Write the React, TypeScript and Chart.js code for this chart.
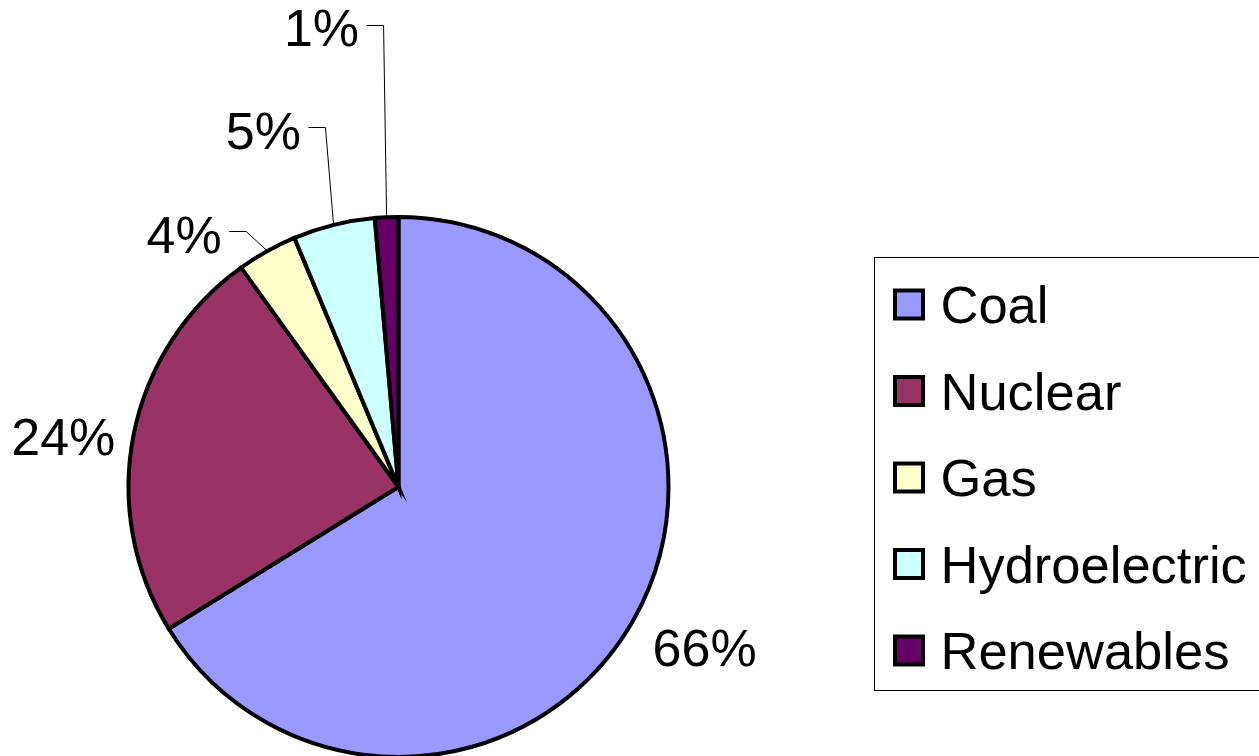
import React, { useEffect, useRef } from "react";
import { Chart, registerables } from "chart.js";

Chart.register(...registerables);

// ---- data ----
const categories = ["Coal", "Nuclear", "Gas", "Hydroelectric", "Renewables"];
const shares = [66.2, 23.9, 3.6, 4.9, 1.4];
const colors = ["#9999FF", "#993366", "#FFFFCC", "#CCFFFF", "#660066"];

// ---- style / layout ----
const FONT_SIZE = 52;
const LEGEND_FONT_SIZE = 52.5;
const FONT = `${FONT_SIZE}px "Liberation Sans", Arial, sans-serif`;
const LEGEND_FONT = `${LEGEND_FONT_SIZE}px "Liberation Sans", Arial, sans-serif`;
const CAP_HALF = 0.358 * FONT_SIZE;
const LEGEND_CAP_HALF = 0.358 * LEGEND_FONT_SIZE;
const CANVAS_W = 1259;
const CANVAS_H = 800;

type LabelLayout =
  | { kind: "outside"; dx: number; dy: number }
  | { kind: "leader"; ex: number; ey: number; len: number };

const LABEL_LAYOUT: LabelLayout[] = [
  { kind: "outside", dx: 69, dy: 28.5 },
  { kind: "outside", dx: -69, dy: 2.6 },
  { kind: "leader", ex: -20, ey: -19, len: 17 },
  { kind: "leader", ex: -8, ey: -96, len: 17 },
  { kind: "leader", ex: -3, ey: -191, len: 17 },
];

const LEGEND_BOX = { left: 874.5, top: 257.5, bottom: 690.5, right: 1265 };
const LEGEND_FIRST_Y = 304.5;
const LEGEND_STEP = 86.5;
const LEGEND_MARK_X = 909;
const LEGEND_MARK = 28;
const LEGEND_TEXT_X = 940.5;

const labelPlugin = {
  id: "pieLabels",
  afterDatasetsDraw(chart: any) {
    const ctx = chart.ctx as CanvasRenderingContext2D;
    const meta = chart.getDatasetMeta(0);
    const total = shares.reduce((a, b) => a + b, 0);
    ctx.save();
    ctx.font = FONT;
    ctx.fillStyle = "#000";
    ctx.strokeStyle = "#000";
    ctx.lineWidth = 1;
    meta.data.forEach((arc: any, i: number) => {
      const { x, y, startAngle, endAngle, outerRadius } = arc.getProps(
        ["x", "y", "startAngle", "endAngle", "outerRadius"],
        true
      );
      const mid = (startAngle + endAngle) / 2;
      const px = x + Math.cos(mid) * (outerRadius + 1.5);
      const py = y + Math.sin(mid) * (outerRadius + 1.5);
      const text = Math.round((shares[i] / total) * 100) + "%";
      const lay = LABEL_LAYOUT[i];
      if (lay.kind === "outside") {
        ctx.textAlign = "center";
        ctx.textBaseline = "alphabetic";
        ctx.fillText(text, px + lay.dx, py + lay.dy + CAP_HALF);
      } else {
        const ex = px + lay.ex;
        const ey = py + lay.ey;
        const hx = ex - lay.len;
        ctx.beginPath();
        ctx.moveTo(px, py);
        ctx.lineTo(ex, Math.round(ey) + 0.5);
        ctx.lineTo(hx, Math.round(ey) + 0.5);
        ctx.stroke();
        ctx.textAlign = "right";
        ctx.textBaseline = "alphabetic";
        ctx.fillText(text, hx - 7.5, ey + 3 + CAP_HALF);
      }
    });
    ctx.restore();
  },
  afterDraw(chart: any) {
    const ctx = chart.ctx as CanvasRenderingContext2D;
    ctx.save();
    ctx.strokeStyle = "#000";
    ctx.lineWidth = 1;
    ctx.strokeRect(
      LEGEND_BOX.left,
      LEGEND_BOX.top,
      LEGEND_BOX.right - LEGEND_BOX.left,
      LEGEND_BOX.bottom - LEGEND_BOX.top
    );
    ctx.font = LEGEND_FONT;
    ctx.textAlign = "left";
    ctx.textBaseline = "alphabetic";
    categories.forEach((name, i) => {
      const cy = LEGEND_FIRST_Y + i * LEGEND_STEP;
      ctx.fillStyle = colors[i];
      ctx.fillRect(LEGEND_MARK_X - LEGEND_MARK / 2, cy - LEGEND_MARK / 2, LEGEND_MARK, LEGEND_MARK);
      ctx.lineWidth = 4;
      ctx.strokeStyle = "#000";
      ctx.strokeRect(LEGEND_MARK_X - LEGEND_MARK / 2, cy - LEGEND_MARK / 2, LEGEND_MARK, LEGEND_MARK);
      ctx.fillStyle = "#000";
      ctx.fillText(name, LEGEND_TEXT_X, cy + LEGEND_CAP_HALF);
    });
    ctx.restore();
  },
};

export default function App() {
  const ref = useRef<HTMLCanvasElement | null>(null);
  useEffect(() => {
    if (!ref.current) return;
    const chart = new Chart(ref.current, {
      type: "pie",
      data: {
        labels: categories,
        datasets: [
          {
            data: shares,
            backgroundColor: colors,
            borderColor: "#000",
            borderWidth: 4,
            hoverBorderWidth: 4,
            hoverOffset: 0,
            borderJoinStyle: "miter",
            clip: false as any,
          } as any,
        ],
      },
      options: {
        animation: false,
        responsive: false,
        devicePixelRatio: 1,
        radius: 270,
        layout: { padding: { left: 0, right: 462, top: 174, bottom: 0 } },
        plugins: {
          legend: { display: false },
          tooltip: { enabled: false },
        },
        events: [],
      } as any,
      plugins: [labelPlugin],
    });
    return () => chart.destroy();
  }, []);
  return (
    <div
      style={{
        position: "fixed",
        left: 0,
        top: 0,
        width: CANVAS_W,
        height: CANVAS_H,
        background: "#fff",
      }}
    >
      <canvas ref={ref} width={CANVAS_W} height={CANVAS_H} style={{ display: "block" }} />
    </div>
  );
}
